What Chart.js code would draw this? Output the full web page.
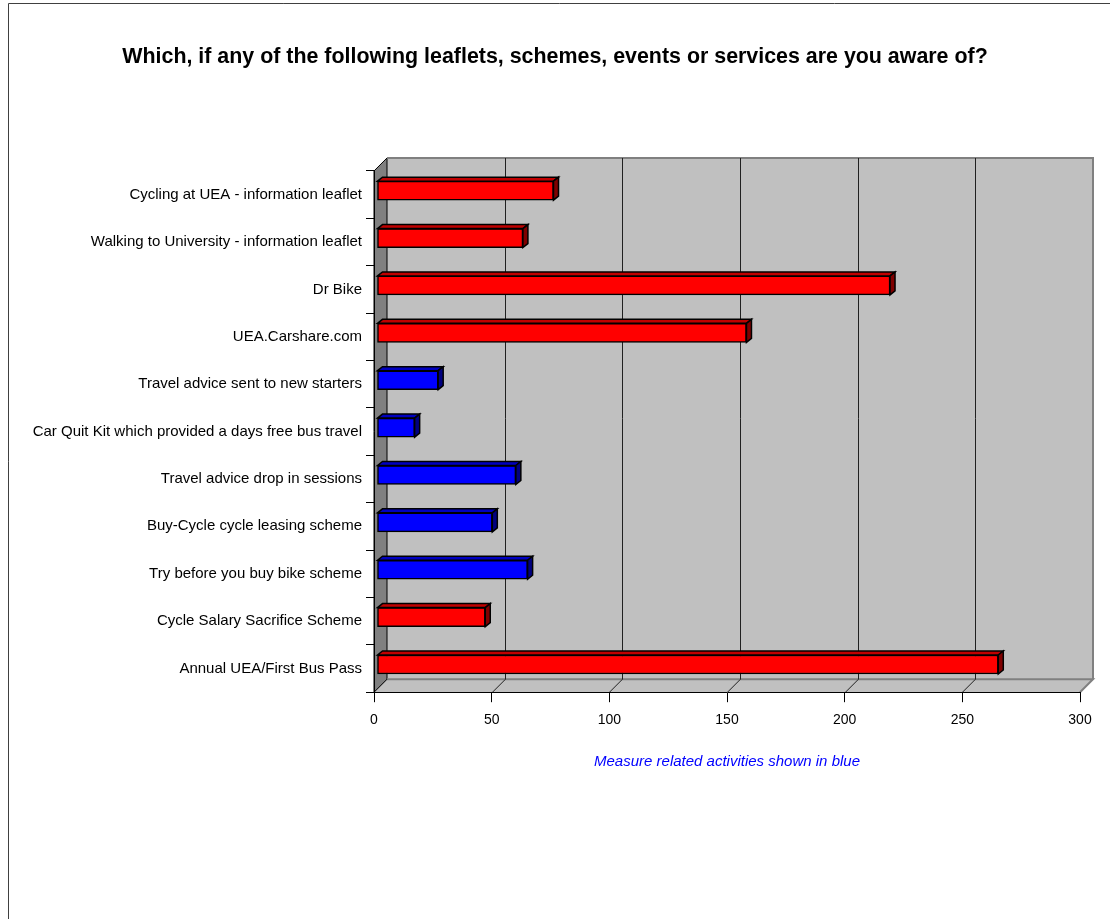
<!DOCTYPE html>
<html>
<head>
<meta charset="utf-8">
<title>Awareness of leaflets, schemes, events and services</title>
<script src="https://cdn.jsdelivr.net/npm/chart.js"></script>
<style>
  html, body { margin: 0; padding: 0; background: #fff; }
  canvas { display: block; }
</style>
</head>
<body>
<canvas id="awareness" width="1110" height="919"></canvas>
<script>
// survey answers, top to bottom
const categories = [
    'Cycling at UEA - information leaflet',
    'Walking to University - information leaflet',
    'Dr Bike',
    'UEA.Carshare.com',
    'Travel advice sent to new starters',
    'Car Quit Kit which provided a days free bus travel',
    'Travel advice drop in sessions',
    'Buy-Cycle cycle leasing scheme',
    'Try before you buy bike scheme',
    'Cycle Salary Sacrifice Scheme',
    'Annual UEA/First Bus Pass'
];
const responses = [75, 62, 218, 157, 26, 16, 59, 49, 64, 46, 264];
const measureRelated = [false, false, false, false, true, true, true, true, true, false, false];

const xMin = 0;
const xMax = 300;
const xStep = 50;

const titleText = 'Which, if any of the following leaflets, schemes, events or services are you aware of?';
const noteText = 'Measure related activities shown in blue';

const FONT = "'Liberation Sans', Arial, Helvetica, sans-serif";

// fake 3d: wall depth, bar depth and where the bars sit inside the box
const WALL = 13;
const BAR_DX = 5, BAR_DY = 4;
const SHIFT_X = 3, SHIFT_Y = -4;

const faces = {
    red:  { front: '#ff0000', top: '#c00000', side: '#800000' },
    blue: { front: '#0000ff', top: '#0000c0', side: '#000080' }
};
const barFaces = measureRelated.map(m => m ? faces.blue : faces.red);

function poly(ctx, pts) {
    ctx.beginPath();
    ctx.moveTo(pts[0][0], pts[0][1]);
    for (let i = 1; i < pts.length; i++) ctx.lineTo(pts[i][0], pts[i][1]);
    ctx.closePath();
}

const box3d = {
    id: 'box3d',
    beforeDraw(chart) {
        const ctx = chart.ctx;
        const a = chart.chartArea;
        const x = chart.scales.x;
        const L = a.left, R = a.right, T = a.top, B = a.bottom;

        ctx.save();

        // outer frame (top and left only)
        ctx.lineWidth = 1;
        ctx.strokeStyle = '#404040';
        ctx.beginPath();
        ctx.moveTo(8.5, chart.height);
        ctx.lineTo(8.5, 3.5);
        ctx.lineTo(chart.width, 3.5);
        ctx.stroke();

        // back wall
        ctx.fillStyle = '#c0c0c0';
        ctx.fillRect(L + WALL, T - WALL, R - L, B - T);

        // floor
        poly(ctx, [[L, B], [L + WALL, B - WALL], [R + WALL, B - WALL], [R, B]]);
        ctx.fillStyle = '#c0c0c0';
        ctx.fill();

        // left wall
        poly(ctx, [[L, T], [L + WALL, T - WALL], [L + WALL, B - WALL], [L, B]]);
        ctx.fillStyle = '#808080';
        ctx.fill();
        ctx.strokeStyle = '#000';
        ctx.lineWidth = 1;
        ctx.stroke();

        // wall edges
        ctx.strokeStyle = '#808080';
        ctx.lineWidth = 2;
        ctx.beginPath();
        ctx.moveTo(L + WALL, B - WALL);
        ctx.lineTo(R + WALL, B - WALL);
        ctx.lineTo(R, B);
        ctx.moveTo(L + WALL, T - WALL);
        ctx.lineTo(R + WALL, T - WALL);
        ctx.lineTo(R + WALL, B - WALL);
        ctx.stroke();

        // gridlines on the back wall and their run across the floor
        ctx.lineWidth = 1;
        ctx.strokeStyle = '#202020';
        for (let v = xMin + xStep; v < xMax; v += xStep) {
            const px = Math.round(x.getPixelForValue(v)) + 0.5;
            ctx.beginPath();
            ctx.moveTo(px + WALL, T - WALL);
            ctx.lineTo(px + WALL, B - WALL);
            ctx.moveTo(px + WALL, B - WALL);
            ctx.lineTo(px, B);
            ctx.stroke();
        }
        ctx.beginPath();
        ctx.moveTo(L + WALL, B - WALL);
        ctx.lineTo(L, B);
        ctx.stroke();

        ctx.restore();
    },
    beforeDatasetsDraw(chart) {
        chart.ctx.save();
        chart.ctx.translate(SHIFT_X, SHIFT_Y);
    },
    afterDatasetsDraw(chart) {
        const ctx = chart.ctx;
        const meta = chart.getDatasetMeta(0);
        ctx.lineWidth = 1.5;
        ctx.strokeStyle = '#000';
        ctx.lineJoin = 'miter';
        meta.data.forEach((bar, i) => {
            const p = bar.getProps(['x', 'y', 'base', 'height'], true);
            const xl = p.base, xr = p.x;
            const yt = p.y - p.height / 2, yb = p.y + p.height / 2;
            const f = barFaces[i];

            poly(ctx, [[xl, yt], [xl + BAR_DX, yt - BAR_DY], [xr + BAR_DX, yt - BAR_DY], [xr, yt]]);
            ctx.fillStyle = f.top;
            ctx.fill();
            ctx.stroke();

            poly(ctx, [[xr, yt], [xr + BAR_DX, yt - BAR_DY], [xr + BAR_DX, yb - BAR_DY], [xr, yb]]);
            ctx.fillStyle = f.side;
            ctx.fill();
            ctx.stroke();
        });
        ctx.restore();
    }
};

new Chart(document.getElementById('awareness'), {
    type: 'bar',
    data: {
        labels: categories,
        datasets: [{
            data: responses,
            backgroundColor: barFaces.map(f => f.front),
            borderColor: '#000',
            borderWidth: 1.5,
            borderSkipped: false,
            barThickness: 19,
            clip: false
        }]
    },
    options: {
        indexAxis: 'y',
        responsive: false,
        animation: false,
        layout: {
            padding: { left: 30, right: 30, top: 0, bottom: 148 }
        },
        plugins: {
            legend: { display: false },
            tooltip: { enabled: false },
            title: {
                display: true,
                text: titleText,
                color: '#000',
                font: { family: FONT, size: 21.4, weight: 'bold' },
                padding: { top: 44.2, bottom: 101.1 }
            }
        },
        scales: {
            x: {
                min: xMin,
                max: xMax,
                ticks: {
                    stepSize: xStep,
                    color: '#000',
                    padding: 10,
                    font: { family: FONT, size: 14 }
                },
                grid: {
                    drawOnChartArea: false,
                    drawTicks: true,
                    tickLength: 10,
                    color: '#000'
                },
                border: { display: true, color: '#000', width: 1 },
                title: {
                    display: true,
                    text: noteText,
                    color: '#0000ff',
                    font: { family: FONT, size: 15, style: 'italic' },
                    padding: { top: 14, bottom: 0 }
                }
            },
            y: {
                afterFit(scale) { scale.width = 344; },
                ticks: {
                    color: '#000',
                    padding: 4,
                    font: { family: FONT, size: 15 }
                },
                grid: {
                    drawOnChartArea: false,
                    drawTicks: true,
                    tickLength: 8,
                    color: '#000'
                },
                border: { display: true, color: '#000', width: 1 }
            }
        }
    },
    plugins: [box3d]
});
</script>
</body>
</html>
